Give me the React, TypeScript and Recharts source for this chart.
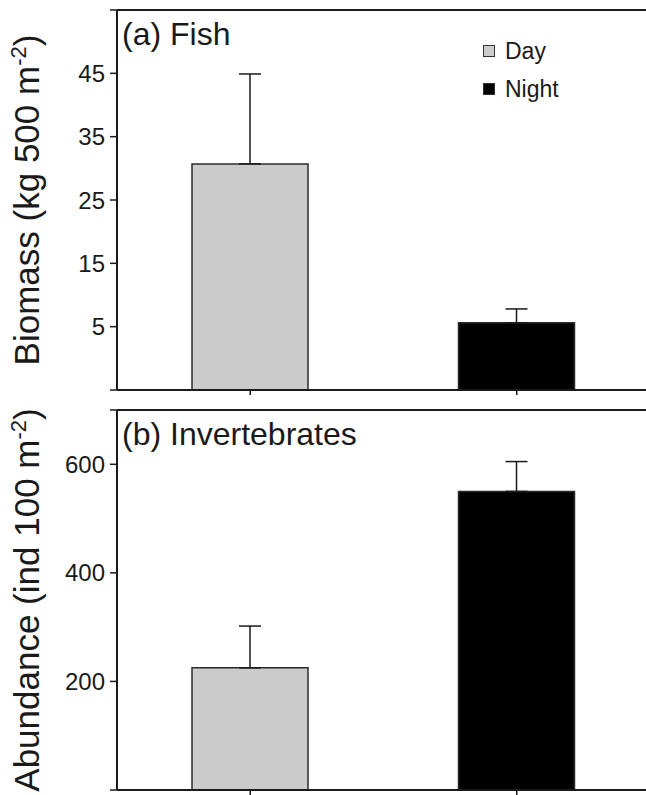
import React from 'react';
import { BarChart, Bar, XAxis, YAxis, ErrorBar, Cell, ReferenceLine } from 'recharts';

// categories shared by both panels
const categories = ['Day', 'Night'];
const barColors = ['#cbcbcb', '#000000'];

// (a) fish biomass, kg per 500 m2 (mean + SE)
const fishBiomass = [30.7, 5.6];
const fishError = [14.2, 2.2];
const fishTicks = [-5, 5, 15, 25, 35, 45, 55];

// (b) invertebrate abundance, ind per 100 m2 (mean + SE)
const invertAbundance = [225, 550];
const invertError = [77, 55];
const invertTicks = [0, 200, 400, 600, 700];

const FONT = '"Liberation Sans", Arial, Helvetica, sans-serif';
const INK = '#1a1a1a';

const axisTitle = (main: string) => (props: any) => {
    const vb = props.viewBox || { y: 0, height: 0 };
    const cx = 39;
    const cy = vb.y + vb.height / 2;
    return (
        <text
            x={cx}
            y={cy}
            transform={`rotate(-90, ${cx}, ${cy})`}
            textAnchor="middle"
            fontSize={35}
            fontFamily={FONT}
            fill={INK}
        >
            {main}
            <tspan dy={-13} fontSize={22}>-2</tspan>
            <tspan dy={13}>)</tspan>
        </text>
    );
};

interface PanelProps {
    title: string;
    yTitle: string;
    values: number[];
    errors: number[];
    ticks: number[];
    height: number;
    xAxisHeight: number;
    legend?: boolean;
}

const Panel: React.FC<PanelProps> = ({ title, yTitle, values, errors, ticks, height, xAxisHeight, legend }) => {
    const lo = ticks[0];
    const hi = ticks[ticks.length - 1];
    const data = categories.map((name, i) => ({
        name,
        range: [lo, values[i]],
        err: [0, errors[i]],
    }));

    return (
        <div style={{ position: 'relative', width: 646, height, overflow: 'hidden' }}>
            <BarChart width={650} height={height} data={data} margin={{ top: 10, right: 0, bottom: 0, left: 0 }}>
                <XAxis
                    dataKey="name"
                    height={xAxisHeight}
                    tickFormatter={() => ''}
                    tickSize={5}
                    axisLine={{ stroke: INK, strokeWidth: 2 }}
                    tickLine={{ stroke: INK, strokeWidth: 1.5 }}
                />
                <YAxis
                    type="number"
                    domain={[lo, hi]}
                    ticks={ticks}
                    interval={0}
                    allowDataOverflow
                    width={117}
                    tickSize={7}
                    tickMargin={5}
                    tickFormatter={(v: number) => (v === lo || v === hi ? '' : String(v))}
                    tick={{ fill: INK, fontSize: 24, fontFamily: FONT }}
                    axisLine={{ stroke: INK, strokeWidth: 2 }}
                    tickLine={{ stroke: INK, strokeWidth: 1.5 }}
                    label={{ content: axisTitle(yTitle) }}
                />
                <ReferenceLine y={hi} stroke={INK} strokeWidth={2} />
                <Bar dataKey="range" barSize={116} stroke="#2b2b2b" strokeWidth={1.5} isAnimationActive={false}>
                    {data.map((d, i) => (
                        <Cell key={d.name} fill={barColors[i]} />
                    ))}
                    <ErrorBar dataKey="err" direction="y" width={11} stroke={INK} strokeWidth={1.5} />
                </Bar>
            </BarChart>
            <div
                style={{
                    position: 'absolute',
                    left: 122,
                    top: 18,
                    fontSize: 32,
                    lineHeight: 1,
                    fontFamily: FONT,
                    color: INK,
                    whiteSpace: 'nowrap',
                }}
            >
                {title}
            </div>
            {legend && (
                <div style={{ position: 'absolute', left: 483, top: 32, fontFamily: FONT, fontSize: 23, color: INK }}>
                    {categories.map((c, i) => (
                        <div key={c} style={{ display: 'flex', alignItems: 'center', height: 38 }}>
                            <span
                                style={{
                                    display: 'inline-block',
                                    width: 10,
                                    height: 10,
                                    background: barColors[i],
                                    border: '1.5px solid #333',
                                    marginRight: 10,
                                }}
                            />
                            <span>{c}</span>
                        </div>
                    ))}
                </div>
            )}
        </div>
    );
};

export default function App() {
    return (
        <div style={{ width: 646, height: 795, background: '#fff' }}>
            <style>{'body { margin: 0; }'}</style>
            <Panel
                title="(a) Fish"
                yTitle="Biomass (kg 500 m"
                values={fishBiomass}
                errors={fishError}
                ticks={fishTicks}
                height={400}
                xAxisHeight={10}
                legend
            />
            <Panel
                title="(b) Invertebrates"
                yTitle="Abundance (ind 100 m"
                values={invertAbundance}
                errors={invertError}
                ticks={invertTicks}
                height={395}
                xAxisHeight={5}
            />
        </div>
    );
}
